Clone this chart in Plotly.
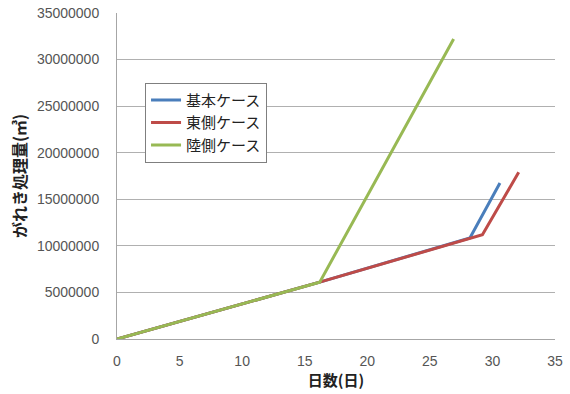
import plotly.graph_objects as go

# Days elapsed and cumulative debris processed (m³) for each scenario
base_days = [0, 16.2, 28.2, 30.6]
base_vol = [0, 6100000, 10850000, 16750000]

east_days = [0, 16.2, 29.2, 32.1]
east_vol = [0, 6100000, 11200000, 17900000]

land_days = [0, 16.2, 26.9]
land_vol = [0, 6100000, 32200000]

x_ticks = [0, 5, 10, 15, 20, 25, 30, 35]
y_ticks = [0, 5000000, 10000000, 15000000, 20000000, 25000000, 30000000, 35000000]

FONT = "Noto Sans CJK JP"

fig = go.Figure()
fig.add_trace(go.Scatter(x=base_days, y=base_vol, mode="lines", name="基本ケース",
                         line=dict(color="#4A7EBB", width=3)))
fig.add_trace(go.Scatter(x=east_days, y=east_vol, mode="lines", name="東側ケース",
                         line=dict(color="#BE4B48", width=3)))
fig.add_trace(go.Scatter(x=land_days, y=land_vol, mode="lines", name="陸側ケース",
                         line=dict(color="#98B954", width=3)))

fig.update_layout(
    width=570, height=394,
    margin=dict(l=117, r=15, t=13, b=55),
    paper_bgcolor="white", plot_bgcolor="white",
    font=dict(family=FONT, size=14, color="#333333"),
    showlegend=True,
    legend=dict(
        x=0.064, y=0.786, xanchor="left", yanchor="top",
        bordercolor="#7f7f7f", borderwidth=1, bgcolor="white",
        font=dict(family=FONT, size=15, color="#222222"),
        traceorder="normal", itemwidth=30, tracegroupgap=2,
    ),
    xaxis=dict(
        range=[0, 35], tickvals=x_ticks, showgrid=False, zeroline=False,
        showline=True, linecolor="#a6a6a6", linewidth=1, automargin=False,
        ticks="outside", ticklen=9, tickcolor="rgba(0,0,0,0)",
        tickfont=dict(family="Liberation Sans", size=14, color="#555555"),
        title=dict(text="<b>日数(日)</b>", font=dict(size=15, color="#222222"), standoff=6),
    ),
    yaxis=dict(
        range=[0, 35000000], tickvals=y_ticks, tickformat="d",
        showgrid=True, gridcolor="#b0b0b0", gridwidth=1, zeroline=False,
        showline=True, linecolor="#a6a6a6", linewidth=1, automargin=False,
        ticks="outside", ticklen=14, tickcolor="rgba(0,0,0,0)",
        tickfont=dict(family="Liberation Sans", size=14, color="#555555"),
        title=dict(text="<b>がれき処理量(㎥)</b>", font=dict(size=16, color="#222222"), standoff=6),
    ),
)

fig.write_html("out.html")
